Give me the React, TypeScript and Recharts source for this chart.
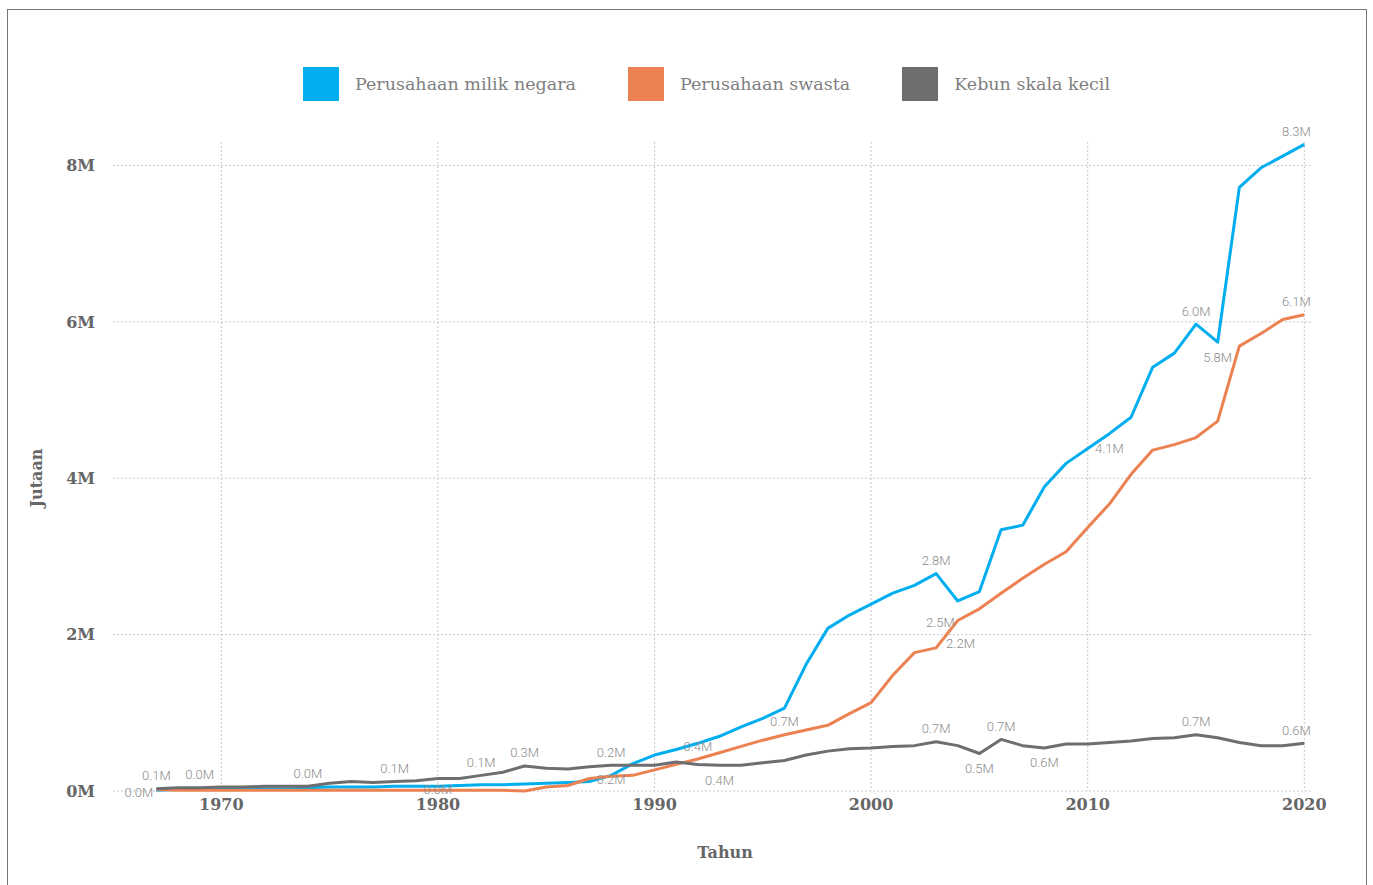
import React from "react";
import { LineChart, Line, XAxis, YAxis, CartesianGrid, Legend, LabelList } from "recharts";

// ==================== data (juta hektar) ====================
const years = [
  1967, 1968, 1969, 1970, 1971, 1972, 1973, 1974, 1975, 1976, 1977, 1978, 1979, 1980,
  1981, 1982, 1983, 1984, 1985, 1986, 1987, 1988, 1989, 1990, 1991, 1992, 1993, 1994,
  1995, 1996, 1997, 1998, 1999, 2000, 2001, 2002, 2003, 2004, 2005, 2006, 2007, 2008,
  2009, 2010, 2011, 2012, 2013, 2014, 2015, 2016, 2017, 2018, 2019, 2020,
];

const negara = [
  0.01, 0.02, 0.02, 0.03, 0.03, 0.03, 0.03, 0.04, 0.05, 0.05, 0.05, 0.06, 0.06, 0.06,
  0.07, 0.08, 0.08, 0.09, 0.1, 0.11, 0.12, 0.2, 0.35, 0.46, 0.53, 0.61, 0.7, 0.82,
  0.93, 1.06, 1.62, 2.08, 2.25, 2.39, 2.53, 2.63, 2.78, 2.43, 2.55, 3.34, 3.4, 3.89,
  4.19, 4.38, 4.57, 4.78, 5.42, 5.6, 5.97, 5.74, 7.72, 7.97, 8.12, 8.27,
];

const swasta = [
  0.02, 0.01, 0.01, 0.01, 0.01, 0.01, 0.01, 0.01, 0.01, 0.01, 0.01, 0.01, 0.01, 0.01,
  0.01, 0.01, 0.01, 0.0, 0.05, 0.07, 0.16, 0.19, 0.2, 0.27, 0.34, 0.41, 0.49, 0.57,
  0.65, 0.72, 0.78, 0.84, 0.99, 1.13, 1.48, 1.77, 1.83, 2.18, 2.33, 2.53, 2.72, 2.9,
  3.06, 3.37, 3.67, 4.05, 4.36, 4.43, 4.52, 4.73, 5.69, 5.85, 6.03, 6.09,
];

const kebun = [
  0.03, 0.04, 0.04, 0.05, 0.05, 0.06, 0.06, 0.06, 0.1, 0.12, 0.11, 0.12, 0.13, 0.16,
  0.16, 0.2, 0.24, 0.32, 0.29, 0.28, 0.31, 0.33, 0.33, 0.33, 0.37, 0.34, 0.33, 0.33,
  0.36, 0.39, 0.46, 0.51, 0.54, 0.55, 0.57, 0.58, 0.63, 0.58, 0.48, 0.66, 0.58, 0.55,
  0.6, 0.6, 0.62, 0.64, 0.67, 0.68, 0.72, 0.68, 0.62, 0.58, 0.58, 0.61,
];

const xTicks = [1970, 1980, 1990, 2000, 2010, 2020];
const yTicks = [0, 2, 4, 6, 8];

type Place = "above" | "below" | "left" | "right" | "center" | "aboveLeft";
type Note = { year: number; text: string; place: Place };

const negaraNotes: Note[] = [
  { year: 1967, text: "0.0M", place: "left" },
  { year: 1980, text: "0.0M", place: "center" },
  { year: 1992, text: "0.4M", place: "center" },
  { year: 2003, text: "2.8M", place: "above" },
  { year: 2011, text: "4.1M", place: "below" },
  { year: 2015, text: "6.0M", place: "above" },
  { year: 2016, text: "5.8M", place: "below" },
  { year: 2020, text: "8.3M", place: "aboveLeft" },
];

const swastaNotes: Note[] = [
  { year: 1988, text: "0.2M", place: "center" },
  { year: 1996, text: "0.7M", place: "above" },
  { year: 2004, text: "2.5M", place: "left" },
  { year: 2003, text: "2.2M", place: "right" },
  { year: 2020, text: "6.1M", place: "aboveLeft" },
];

const kebunNotes: Note[] = [
  { year: 1967, text: "0.1M", place: "above" },
  { year: 1969, text: "0.0M", place: "above" },
  { year: 1974, text: "0.0M", place: "above" },
  { year: 1978, text: "0.1M", place: "above" },
  { year: 1982, text: "0.1M", place: "above" },
  { year: 1984, text: "0.3M", place: "above" },
  { year: 1988, text: "0.2M", place: "above" },
  { year: 1993, text: "0.4M", place: "below" },
  { year: 2003, text: "0.7M", place: "above" },
  { year: 2005, text: "0.5M", place: "below" },
  { year: 2006, text: "0.7M", place: "above" },
  { year: 2008, text: "0.6M", place: "below" },
  { year: 2015, text: "0.7M", place: "above" },
  { year: 2020, text: "0.6M", place: "aboveLeft" },
];

const data = years.map((year, i) => ({
  year,
  negara: negara[i],
  swasta: swasta[i],
  kebun: kebun[i],
}));

const BLUE = "#00aeef";
const ORANGE = "#ec8152";
const GREY = "#6d6e70";
const SERIF = "'DejaVu Serif', serif";

const series = [
  { key: "negara", name: "Perusahaan milik negara", color: BLUE, notes: negaraNotes },
  { key: "swasta", name: "Perusahaan swasta", color: ORANGE, notes: swastaNotes },
  { key: "kebun", name: "Kebun skala kecil", color: GREY, notes: kebunNotes },
];

// 标签偏移
const offsets: Record<Place, { dx: number; dy: number; anchor: "start" | "middle" | "end" }> = {
  above: { dx: 0, dy: -13, anchor: "middle" },
  aboveLeft: { dx: -8, dy: -13, anchor: "middle" },
  below: { dx: 0, dy: 15, anchor: "middle" },
  left: { dx: -3, dy: 2, anchor: "end" },
  right: { dx: 10, dy: -4, anchor: "start" },
  center: { dx: 0, dy: 3, anchor: "middle" },
};

function noteLabel(notes: Note[]) {
  return (props: any) => {
    const { x, y, index } = props;
    const row = data[index];
    if (!row) return null;
    const note = notes.find((n) => n.year === row.year);
    if (!note) return null;
    const o = offsets[note.place];
    return (
      <text
        x={x + o.dx}
        y={y + o.dy + 4.5}
        textAnchor={o.anchor}
        fontFamily="Roboto, sans-serif"
        fontWeight={300}
        fontSize={13}
        fill="#8c8c8c"
      >
        {note.text}
      </text>
    );
  };
}

function LegendBox() {
  return (
    <div style={{ display: "flex", justifyContent: "center", height: 34, paddingLeft: 92 }}>
      {series.map((s) => (
        <div key={s.key} style={{ display: "flex", alignItems: "center", marginRight: 52 }}>
          <span style={{ width: 36, height: 34, background: s.color, display: "inline-block" }} />
          <span style={{ marginLeft: 16, fontFamily: SERIF, fontSize: 17.5, color: "#7f7f7f" }}>{s.name}</span>
        </div>
      ))}
    </div>
  );
}

export default function App() {
  return (
    <div
      style={{
        position: "absolute",
        left: 7,
        top: 9,
        width: 1358,
        height: 900,
        border: "1px solid #777",
        background: "#fff",
      }}
    >
      <div style={{ position: "absolute", left: -8, top: -10 }}>
        <LineChart
          width={1373}
          height={885}
          data={data}
          margin={{ top: 108, right: 60, bottom: 0, left: 0 }}
        >
          <Legend
            verticalAlign="top"
            content={<LegendBox />}
            wrapperStyle={{ top: 67, left: 0, width: 1373 }}
          />
          <CartesianGrid stroke="#c8c8c8" strokeDasharray="2 2" syncWithTicks />
          <XAxis
            dataKey="year"
            type="number"
            domain={[1965.05, 2020.4]}
            ticks={xTicks}
            allowDecimals={false}
            axisLine={false}
            tickLine={false}
            height={94}
            tick={{ fontFamily: SERIF, fontSize: 16, fontWeight: 700, fill: "#666" }}
            label={() => (
              <text
                x={725}
                y={858}
                textAnchor="middle"
                fontFamily={SERIF}
                fontSize={16}
                fontWeight={700}
                fill="#666"
              >
                Tahun
              </text>
            )}
          />
          <YAxis
            type="number"
            domain={[0, 8.3]}
            ticks={yTicks}
            width={113}
            axisLine={false}
            tickLine={false}
            tickMargin={12}
            tickFormatter={(v: number) => `${v}M`}
            tick={{ fontFamily: SERIF, fontSize: 16, fontWeight: 700, fill: "#666" }}
            label={() => (
              <text
                transform="translate(42,478) rotate(-90)"
                textAnchor="middle"
                fontFamily={SERIF}
                fontSize={16}
                fontWeight={700}
                fill="#666"
              >
                Jutaan
              </text>
            )}
          />
          {series.map((s) => (
            <Line
              key={s.key}
              type="linear"
              dataKey={s.key}
              name={s.name}
              stroke={s.color}
              strokeWidth={3}
              strokeLinejoin="round"
              dot={false}
              isAnimationActive={false}
            >
              <LabelList dataKey={s.key} content={noteLabel(s.notes)} />
            </Line>
          ))}
        </LineChart>
      </div>
    </div>
  );
}
